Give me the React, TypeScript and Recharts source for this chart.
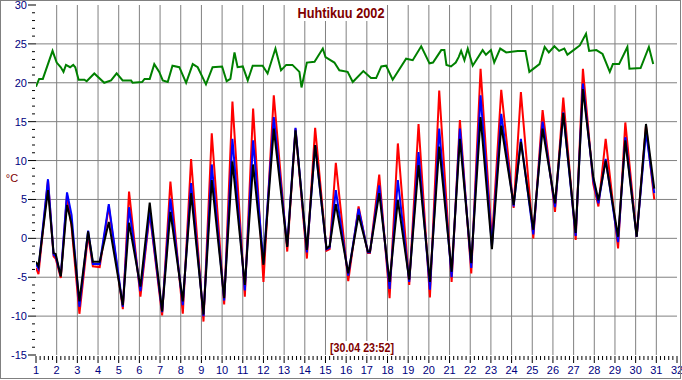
import React from 'react';
import { LineChart, Line, XAxis, YAxis, ReferenceLine } from 'recharts';

// outdoor sensors: time in days (1 = 1.4. 00:00), readings at daily lows / highs
const TIME = [
  1.0, 1.12, 1.58, 1.85, 1.95, 2.2, 2.5, 2.72, 3.1, 3.52, 3.75, 4.08, 4.52, 5.2, 5.5, 6.05, 6.5, 7.1, 7.5, 8.1,
  8.5, 9.1, 9.5, 10.1, 10.5, 11.1, 11.5, 12.0, 12.5, 13.15, 13.55, 14.1, 14.5, 15.05, 15.2, 15.5, 16.1, 16.6,
  17.05, 17.15, 17.6, 18.1, 18.5, 19.05, 19.5, 20.05, 20.5, 21.1, 21.5, 22.05, 22.5, 23.05, 23.5, 24.1, 24.45,
  25.05, 25.5, 26.1, 26.5, 27.1, 27.45, 27.95, 28.2, 28.55, 29.15, 29.5, 30.05, 30.5, 30.9,
];
const BLACK = [
  -3.0, -3.6, 6.2, -1.9, -2.0, -4.9, 4.3, 1.8, -8.1, 0.9, -3.0, -3.0, 2.1, -8.6, 2.0, -6.2, 4.6, -9.4, 3.4, -8.1,
  5.8, -9.8, 7.5, -7.7, 9.9, -6.0, 9.5, -3.4, 14.1, -1.1, 13.9, -1.5, 12.0, -1.3, -1.0, 4.4, -4.5, 3.0,
  -1.7, -1.7, 5.8, -5.6, 4.9, -5.3, 9.4, -5.6, 11.8, -4.3, 12.8, -3.2, 15.6, -1.4, 14.5, 4.3, 12.4,
  1.1, 14.1, 4.5, 16.1, 0.7, 19.2, 7.9, 4.9, 10.0, 0.2, 12.6, 0.2, 14.7, 6.4,
];
const BLUE = [
  -3.3, -3.9, 7.6, -2.1, -2.3, -4.8, 5.9, 3.0, -8.8, 1.0, -3.3, -3.3, 4.4, -8.8, 4.0, -6.8, 3.5, -9.5, 5.1, -8.6,
  7.1, -10.0, 9.5, -8.0, 12.8, -6.7, 12.6, -3.2, 15.6, -1.0, 14.2, -1.8, 12.0, -1.4, -1.2, 6.2, -4.8, 3.8,
  -1.8, -1.8, 6.8, -6.5, 7.5, -5.6, 11.1, -6.6, 14.1, -5.0, 14.1, -3.8, 18.4, -1.0, 16.0, 4.1, 12.8,
  0.5, 15.0, 4.0, 16.2, 0.3, 19.9, 7.5, 4.5, 10.2, -0.5, 13.0, 0.2, 13.7, 5.8,
];
const RED = [
  -3.8, -4.6, 7.5, -2.3, -2.6, -5.1, 5.6, 1.5, -9.7, 0.4, -3.6, -3.7, 4.1, -9.1, 6.0, -7.5, 3.2, -9.9, 7.3, -9.7,
  10.2, -10.7, 13.5, -8.5, 17.6, -7.5, 16.7, -5.6, 18.4, -1.7, 14.1, -2.6, 14.2, -1.6, -1.4, 9.7, -5.5, 4.1,
  -1.9, -1.9, 8.2, -7.7, 12.2, -6.0, 14.7, -7.6, 19.0, -5.6, 15.2, -4.5, 21.8, -0.4, 19.1, 3.9, 18.8,
  0.0, 16.5, 3.4, 18.1, -0.2, 21.8, 7.0, 4.1, 12.8, -1.3, 14.9, 0.2, 14.5, 5.0,
];

// indoor sensor
const INDOOR_TIME = [
  1.0, 1.15, 1.33, 1.8, 2.0, 2.2, 2.33, 2.45, 2.65, 2.8, 2.9, 3.06, 3.34, 3.45, 3.82, 4.3, 4.63, 4.9, 5.19, 5.6,
  5.67, 6.13, 6.25, 6.5, 6.72, 6.96, 7.13, 7.37, 7.6, 7.93, 8.26, 8.58, 8.82, 9.22, 9.54, 10.0, 10.22, 10.4, 10.6,
  10.75, 11.0, 11.24, 11.48, 11.96, 12.2, 12.58, 12.85, 13.1, 13.4, 13.74, 13.84, 14.1, 14.47, 14.87, 15.0, 15.43,
  15.67, 16.07, 16.32, 16.83, 17.2, 17.45, 17.7, 17.93, 18.25, 18.9, 19.22, 19.63, 20.03, 20.2, 20.6, 20.75, 20.85,
  21.07, 21.3, 21.44, 21.56, 21.72, 21.88, 22.12, 22.6, 22.76, 23.0, 23.16, 23.45, 23.74, 24.0, 24.3, 24.67, 24.86,
  25.35, 25.6, 25.8, 26.07, 26.3, 26.55, 26.7, 26.95, 27.3, 27.6, 27.75, 28.1, 28.4, 28.75, 28.9, 29.2, 29.6, 29.7,
  30.24, 30.64, 30.85,
];
const INDOOR = [
  19.5, 20.5, 20.5, 24.1, 22.6, 22.0, 21.4, 22.3, 22.0, 22.3, 22.0, 20.4, 20.4, 20.2, 21.2, 20.0, 20.3, 21.2, 20.3, 20.3,
  20.0, 20.1, 20.5, 20.5, 22.4, 21.4, 20.3, 20.1, 22.2, 22.0, 20.0, 22.4, 22.0, 19.8, 22.0, 22.1, 20.2, 20.5, 23.9,
  22.0, 22.1, 20.3, 22.2, 22.2, 21.2, 24.4, 21.6, 22.3, 22.3, 21.4, 19.4, 22.6, 22.7, 24.4, 23.3, 22.6,
  21.6, 21.4, 20.1, 21.5, 20.6, 20.6, 22.1, 22.2, 20.4, 23.1, 22.9, 24.7, 22.5, 22.6, 24.2, 24.2, 22.3,
  22.1, 22.6, 23.3, 24.1, 22.9, 24.4, 22.2, 24.2, 23.6, 24.2, 22.6, 24.4, 23.9, 24.0, 24.1, 24.1, 21.4,
  22.4, 24.6, 23.9, 24.7, 24.1, 24.4, 23.6, 24.1, 24.8, 26.3, 24.1, 24.2, 23.7, 21.4, 22.4, 22.4, 24.6, 21.8,
  21.9, 24.6, 22.4,
];

const DAYS = Array.from({ length: 32 }, (_, i) => i + 1);
const X_TICKS = Array.from({ length: 156 }, (_, i) => Math.round((1 + i * 0.2) * 10) / 10);
const Y_TICKS = Array.from({ length: 46 }, (_, i) => i - 15);
const GRID_X = DAYS.slice(1, 31);
const GRID_Y = [-10, -5, 0, 5, 10, 15, 20, 25];

const outdoor = TIME.map((t, i) => ({ t, black: BLACK[i], blue: BLUE[i], red: RED[i] }));
const indoor = INDOOR_TIME.map((t, i) => ({ t, indoor: INDOOR[i] }));

const NAVY = '#000080';
const MAROON = '#800000';

const XTick = (props: any) => {
  const { x, y, payload } = props;
  const v = payload.value;
  const major = Math.abs(v - Math.round(v)) < 1e-6;
  return (
    <g>
      <line x1={x} x2={x} y1={y + 1} y2={y + (major ? 8 : 5)} stroke="#000" />
      {major && (
        <text x={x} y={y + 19} textAnchor="middle" fill={NAVY} fontSize={11} fontFamily="Arial">
          {Math.round(v)}
        </text>
      )}
    </g>
  );
};

const YTick = (props: any) => {
  const { x, y, payload } = props;
  const v = payload.value;
  const major = v % 5 === 0;
  return (
    <g>
      <line x1={major ? x - 8 : x - 4} x2={major ? x : x - 1} y1={y} y2={y} stroke="#000" />
      {major && (
        <text x={x - 9} y={y + 4} textAnchor="end" fill={NAVY} fontSize={11} fontFamily="Arial">
          {v}
        </text>
      )}
    </g>
  );
};

export default function App() {
  return (
    <div style={{ position: 'absolute', left: 0, top: 0, width: 682, height: 380, background: '#fff' }}>
      <LineChart width={682} height={380} margin={{ top: 5, right: 5, bottom: 0, left: 0 }}>
        <XAxis
          type="number"
          dataKey="t"
          domain={[1, 32]}
          ticks={X_TICKS}
          interval={0}
          height={25}
          axisLine={false}
          tickLine={false}
          tickSize={0}
          tickMargin={0}
          tick={<XTick />}
          allowDataOverflow
        />
        <YAxis
          type="number"
          domain={[-15, 30]}
          ticks={Y_TICKS}
          interval={0}
          width={36}
          axisLine={false}
          tickLine={false}
          tickSize={0}
          tickMargin={0}
          tick={<YTick />}
          allowDataOverflow
        />
        {GRID_X.map((d) => (
          <ReferenceLine key={`gx${d}`} x={d} stroke="#808080" strokeWidth={1} ifOverflow="visible" />
        ))}
        {GRID_Y.map((v) => (
          <ReferenceLine key={`gy${v}`} y={v} stroke="#808080" strokeWidth={1} ifOverflow="visible" />
        ))}
        <Line data={indoor} dataKey="indoor" stroke="#008000" strokeWidth={2} dot={false} isAnimationActive={false} />
        <Line data={outdoor} dataKey="red" stroke="#ff0000" strokeWidth={2} dot={false} isAnimationActive={false} />
        <Line data={outdoor} dataKey="blue" stroke="#0000ff" strokeWidth={2} dot={false} isAnimationActive={false} />
        <Line data={outdoor} dataKey="black" stroke="#000000" strokeWidth={2} dot={false} isAnimationActive={false} />
      </LineChart>
      <svg
        width={682}
        height={380}
        style={{ position: 'absolute', left: 0, top: 0, pointerEvents: 'none' }}
      >
        <rect x={0.5} y={0.5} width={680} height={378} fill="none" stroke="#808080" />
        <rect x={295} y={5} width={92} height={16} fill="#fff" />
        <text x={341} y={18} textAnchor="middle" fill={MAROON} fontSize={14} fontWeight="bold" fontFamily="Arial"
          textLength={87} lengthAdjust="spacingAndGlyphs">
          Huhtikuu 2002
        </text>
        <text x={12} y={182} textAnchor="middle" fill={MAROON} fontSize={11} fontFamily="Arial">°C</text>
        <rect x={328} y={341} width={68} height={13} fill="#fff" />
        <text x={362} y={351.5} textAnchor="middle" fill={MAROON} fontSize={12} fontWeight="bold" fontFamily="Arial"
          textLength={64} lengthAdjust="spacingAndGlyphs">
          [30.04 23:52]
        </text>
      </svg>
    </div>
  );
}
